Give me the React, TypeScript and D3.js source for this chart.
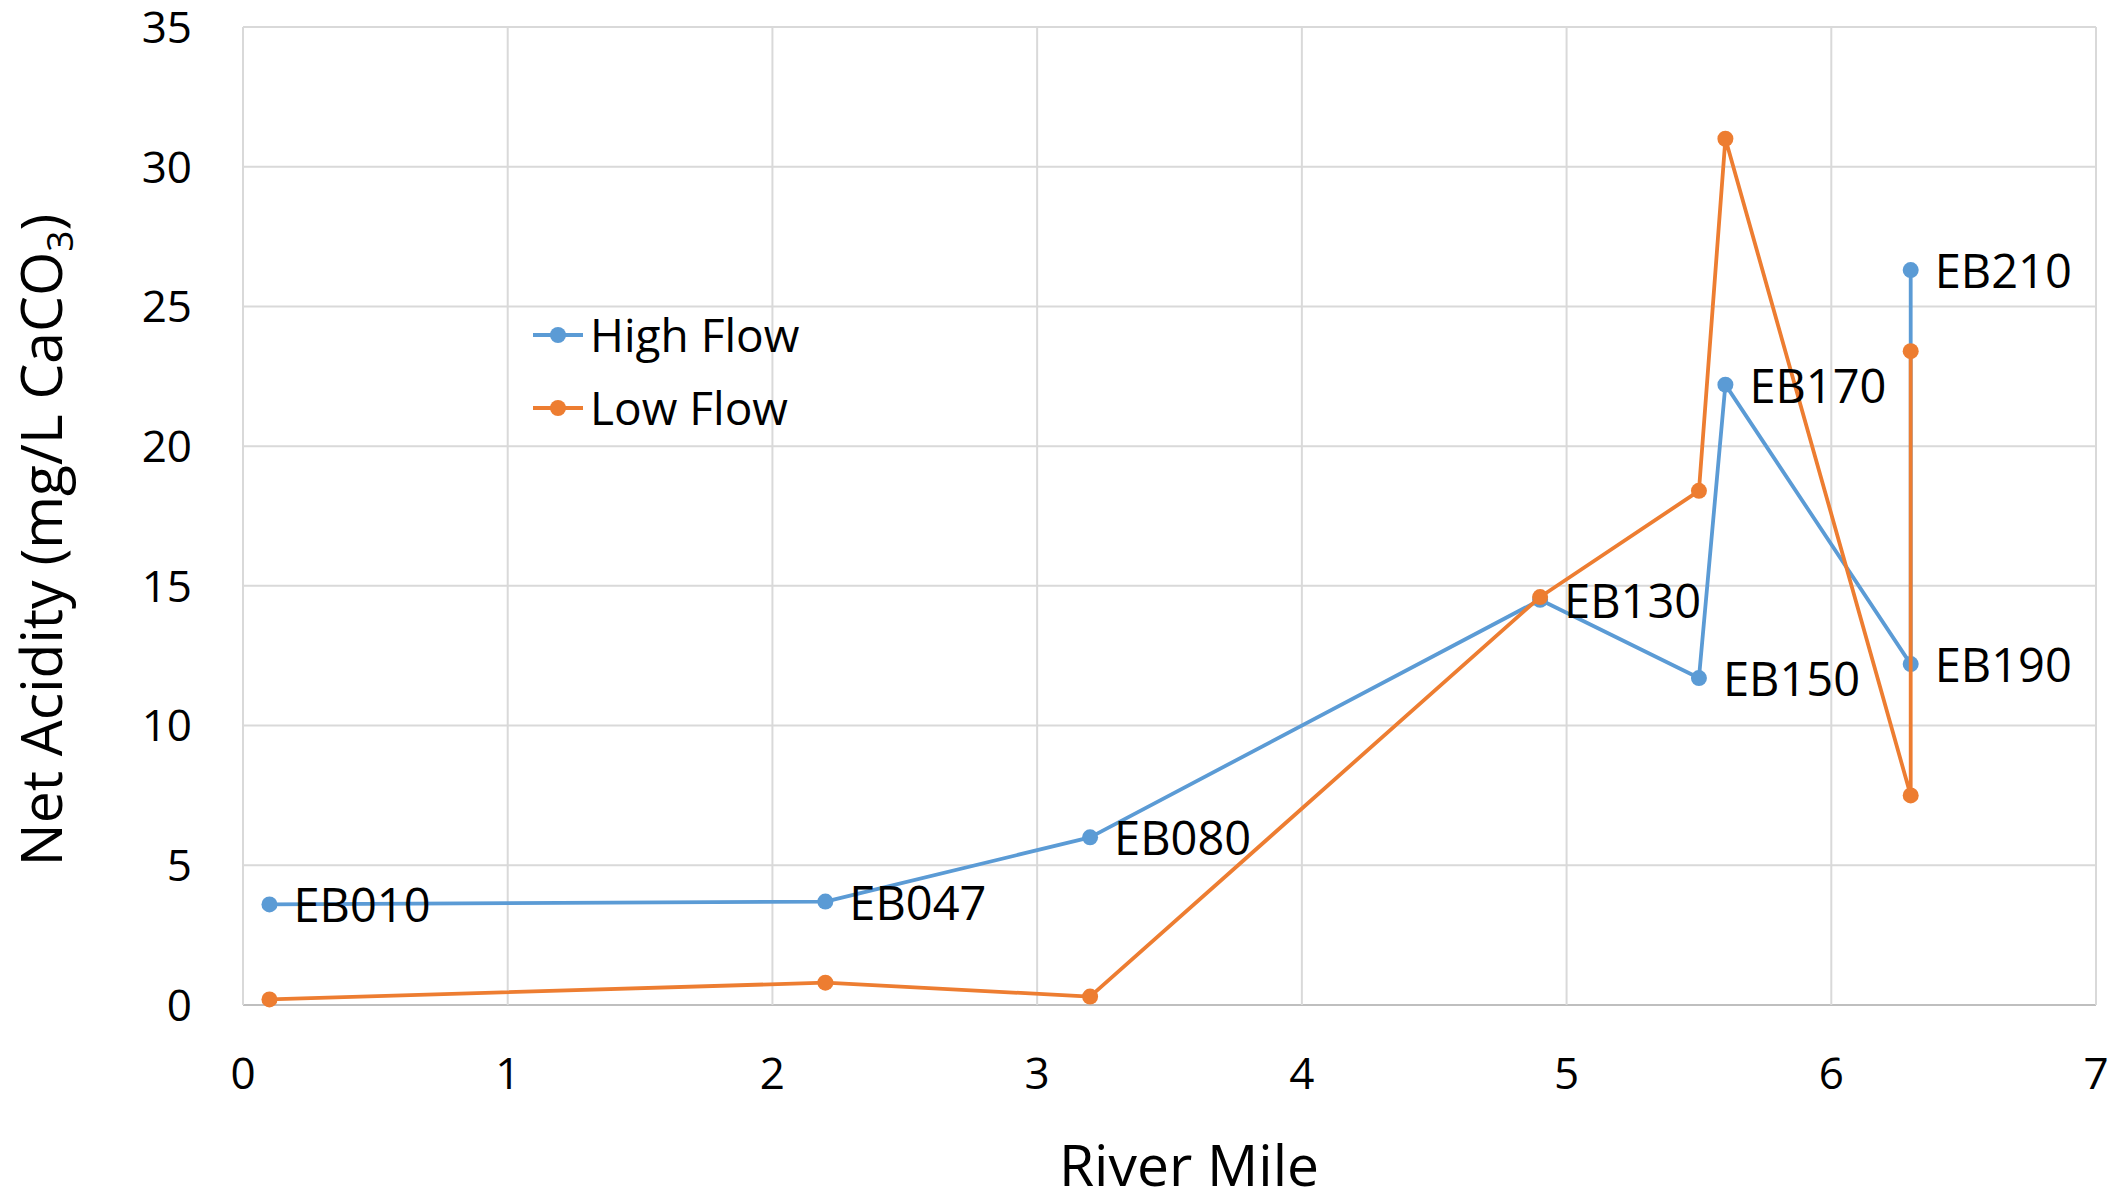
import * as d3 from 'd3';

// Station sites along the river
const stations = ['EB010', 'EB047', 'EB080', 'EB130', 'EB150', 'EB170', 'EB190', 'EB210'];
const riverMile = [0.1, 2.2, 3.2, 4.9, 5.5, 5.6, 6.3, 6.3];
const highFlow = [3.6, 3.7, 6.0, 14.5, 11.7, 22.2, 12.2, 26.3];
const lowFlow = [0.2, 0.8, 0.3, 14.6, 18.4, 31.0, 7.5, 23.4];

const xTicks = [0, 1, 2, 3, 4, 5, 6, 7];
const yTicks = [0, 5, 10, 15, 20, 25, 30, 35];

const seriesNames = ['High Flow', 'Low Flow'];
const seriesColors = ['#5B9BD5', '#ED7D31'];

const W = 2118;
const H = 1199;
const FONT = '"Open Sans", sans-serif';

export default function App() {
    const x = d3.scaleLinear().domain([0, 7]).range([243, 2096]);
    const y = d3.scaleLinear().domain([0, 35]).range([1005, 27]);

    const line = d3
        .line<number>()
        .x((_, i) => x(riverMile[i]))
        .y((d) => y(d));

    const series = [highFlow, lowFlow];

    return (
        <svg
            width={W}
            height={H}
            style={{ position: 'absolute', left: 0, top: 0, background: '#fff' }}
            fontFamily={FONT}
        >
            {/* grid */}
            {yTicks.map((t) => (
                <line key={'gy' + t} x1={x(0)} x2={x(7)} y1={y(t)} y2={y(t)}
                    stroke={t === 0 ? '#BFBFBF' : '#D9D9D9'} strokeWidth={2} />
            ))}
            {xTicks.map((t) => (
                <line key={'gx' + t} x1={x(t)} x2={x(t)} y1={y(0)} y2={y(35)}
                    stroke="#D9D9D9" strokeWidth={2} />
            ))}

            {/* tick labels */}
            {yTicks.map((t) => (
                <text key={'ty' + t} x={192} y={y(t)} dy="0.36em" textAnchor="end"
                    fontSize={44} fill="#000">{t}</text>
            ))}
            {xTicks.map((t) => (
                <text key={'tx' + t} x={x(t)} y={1089} textAnchor="middle"
                    fontSize={44} fill="#000">{t}</text>
            ))}

            {/* axis titles */}
            <text x={1189} y={1186} textAnchor="middle" fontSize={57} fill="#000">River Mile</text>
            <text transform={`translate(62,540) rotate(-90)`} textAnchor="middle"
                fontSize={57} fill="#000">
                Net Acidity (mg/L CaCO<tspan fontSize={37} dy={11}>3</tspan><tspan dy={-11}>)</tspan>
            </text>

            {/* series */}
            {series.map((s, si) => (
                <g key={seriesNames[si]}>
                    <path d={line(s) || ''} fill="none" stroke={seriesColors[si]} strokeWidth={3.8}
                        strokeLinejoin="round" />
                    {s.map((v, i) => (
                        <circle key={i} cx={x(riverMile[i])} cy={y(v)} r={8} fill={seriesColors[si]} />
                    ))}
                </g>
            ))}

            {/* station labels */}
            {stations.map((name, i) => (
                <text key={name} x={x(riverMile[i]) + 24} y={y(highFlow[i]) + 18}
                    fontSize={47} fill="#000">{name}</text>
            ))}

            {/* legend */}
            {seriesNames.map((name, i) => {
                const ly = 335 + i * 73;
                return (
                    <g key={name}>
                        <line x1={533} x2={583} y1={ly} y2={ly} stroke={seriesColors[i]} strokeWidth={3.8} />
                        <circle cx={558} cy={ly} r={8} fill={seriesColors[i]} />
                        <text x={590} y={ly} dy="0.36em" fontSize={46} fill="#000">{name}</text>
                    </g>
                );
            })}
        </svg>
    );
}
